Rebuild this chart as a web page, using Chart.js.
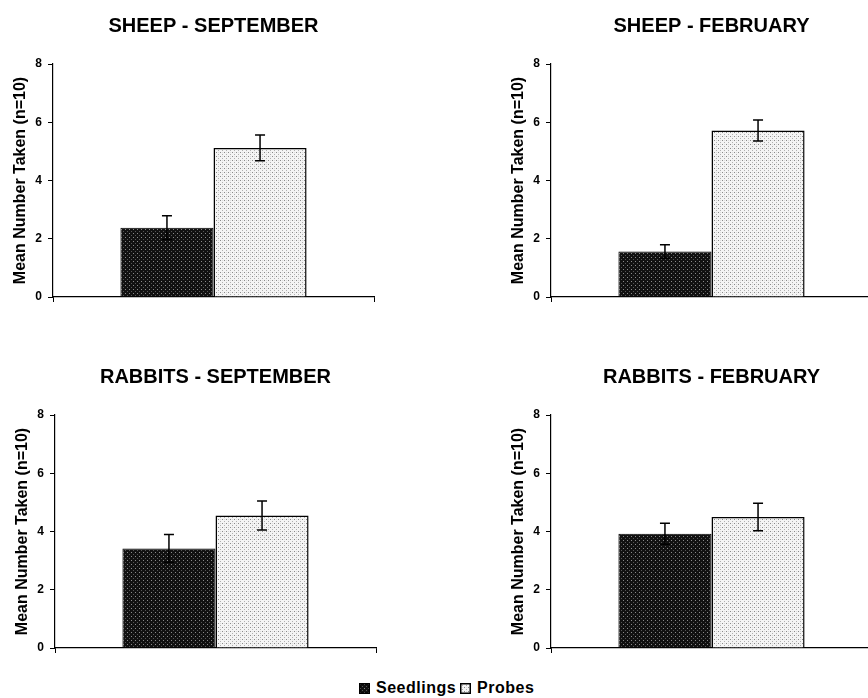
<!DOCTYPE html>
<html>
<head>
<meta charset="utf-8">
<script src="https://cdn.jsdelivr.net/npm/chart.js@4.4.1/dist/chart.umd.min.js"></script>
<style>
    html, body { margin: 0; padding: 0; background: #fff; overflow: hidden; }
    body { width: 868px; height: 698px; position: relative; font-family: "Liberation Sans", Arial, sans-serif; }
    .panel { position: absolute; width: 434px; height: 320px; }
    .panel canvas { display: block; }
    #legend { position: absolute; left: 359px; top: 678px; height: 20px; display: flex; align-items: center;
              font-weight: bold; font-size: 16px; letter-spacing: 0.5px; color: #000; white-space: nowrap; }
    .swatch { width: 11px; height: 11px; margin-right: 6px; }
    .swatch canvas { display: block; }
    #legend span.txt { margin-right: 4px; }
</style>
</head>
<body>
<div class="panel" style="left:0;top:0"><canvas id="c0" width="434" height="320"></canvas></div>
<div class="panel" style="left:498px;top:0"><canvas id="c1" width="434" height="320"></canvas></div>
<div class="panel" style="left:2px;top:351px"><canvas id="c2" width="434" height="320"></canvas></div>
<div class="panel" style="left:498px;top:351px"><canvas id="c3" width="434" height="320"></canvas></div>
<div id="legend">
    <span class="swatch" id="sw0"></span><span class="txt">Seedlings</span>
    <span class="swatch" id="sw1"></span><span class="txt">Probes</span>
</div>
<script>
// chart values
const seriesNames = ['Seedlings', 'Probes'];
const panelTitles = ['SHEEP - SEPTEMBER', 'SHEEP - FEBRUARY', 'RABBITS - SEPTEMBER', 'RABBITS - FEBRUARY'];
const seedlingMeans = [2.38, 1.56, 3.42, 3.92];
const seedlingErrors = [0.41, 0.23, 0.48, 0.36];
const probeMeans = [5.12, 5.72, 4.55, 4.50];
const probeErrors = [0.44, 0.36, 0.50, 0.47];
const yTicks = [0, 2, 4, 6, 8];
const yTitle = 'Mean Number Taken (n=10)';

Chart.defaults.font.family = '"Liberation Sans", Arial, sans-serif';
Chart.defaults.color = '#000';

// dotted fills like the print screens
function makePattern(base, dots) {
    const c = document.createElement('canvas');
    c.width = 4; c.height = 4;
    const g = c.getContext('2d');
    g.fillStyle = base;
    g.fillRect(0, 0, 4, 4);
    dots.forEach(d => { g.fillStyle = d[2]; g.fillRect(d[0], d[1], 1, 1); });
    return g.createPattern(c, 'repeat');
}
const darkFill = makePattern('#111', [[1, 1, '#8a8a8a'], [3, 3, '#555']]);
const lightFill = makePattern('#f4f4f4', [[0, 0, '#8a8a8a'], [2, 2, '#b0b0b0'], [2, 0, '#dcdcdc']]);

// error bars drawn with the chart's own y scale
const errorBars = {
    id: 'errorBars',
    afterDatasetsDraw(chart) {
        const ctx = chart.ctx;
        const y = chart.scales.y;
        ctx.save();
        ctx.strokeStyle = '#000';
        ctx.lineWidth = 1.5;
        chart.data.datasets.forEach((ds, di) => {
            chart.getDatasetMeta(di).data.forEach((bar, j) => {
                const v = ds.data[j], e = ds.errors[j];
                const top = y.getPixelForValue(v + e);
                const bot = y.getPixelForValue(v - e);
                ctx.beginPath();
                ctx.moveTo(bar.x, top); ctx.lineTo(bar.x, bot);
                ctx.moveTo(bar.x - 5, top); ctx.lineTo(bar.x + 5, top);
                ctx.moveTo(bar.x - 5, bot); ctx.lineTo(bar.x + 5, bot);
                ctx.stroke();
            });
        });
        ctx.restore();
    }
};

function drawPanel(i) {
    const ctx = document.getElementById('c' + i).getContext('2d');
    return new Chart(ctx, {
        type: 'bar',
        data: {
            labels: [''],
            datasets: [{
                label: seriesNames[0],
                data: [seedlingMeans[i]],
                errors: [seedlingErrors[i]],
                backgroundColor: darkFill,
                borderColor: '#000',
                borderWidth: 1
            }, {
                label: seriesNames[1],
                data: [probeMeans[i]],
                errors: [probeErrors[i]],
                backgroundColor: lightFill,
                borderColor: '#000',
                borderWidth: 1.5
            }]
        },
        options: {
            responsive: false,
            animation: false,
            layout: { padding: { left: 0, right: 60, top: 0, bottom: 15 } },
            datasets: { bar: { categoryPercentage: 0.58, barPercentage: 1.0 } },
            plugins: {
                legend: { display: false },
                tooltip: { enabled: false },
                title: {
                    display: true,
                    fullSize: false, // centre over the plot, not the canvas
                    text: panelTitles[i],
                    font: { size: 20, weight: 'bold' },
                    padding: { top: 14, bottom: 26 }
                }
            },
            scales: {
                x: {
                    grid: { drawOnChartArea: false, color: '#000', tickLength: 5 },
                    border: { color: '#000', width: 1.2 },
                    ticks: { display: false },
                    afterFit: s => { s.height = 8; }
                },
                y: {
                    min: 0,
                    max: 8,
                    afterBuildTicks: s => { s.ticks = yTicks.map(v => ({ value: v })); },
                    grid: { drawOnChartArea: false, color: '#000', tickLength: 5 },
                    border: { color: '#000', width: 1.2 },
                    ticks: { font: { size: 12, weight: 'bold' }, padding: 6 },
                    title: {
                        display: true,
                        text: yTitle,
                        font: { size: 16, weight: 'bold' },
                        padding: { top: 11, bottom: 0 }
                    },
                    afterFit: s => { s.width = 53; }
                }
            }
        },
        plugins: [errorBars]
    });
}

panelTitles.forEach((t, i) => drawPanel(i));

// legend swatches reuse the bar fills
[darkFill, lightFill].forEach((p, k) => {
    const c = document.createElement('canvas');
    c.width = 11; c.height = 11;
    const g = c.getContext('2d');
    g.fillStyle = p;
    g.fillRect(0, 0, 11, 11);
    g.strokeStyle = '#000';
    g.lineWidth = 1.5;
    g.strokeRect(0.75, 0.75, 9.5, 9.5);
    document.getElementById('sw' + k).appendChild(c);
});
</script>
</body>
</html>
